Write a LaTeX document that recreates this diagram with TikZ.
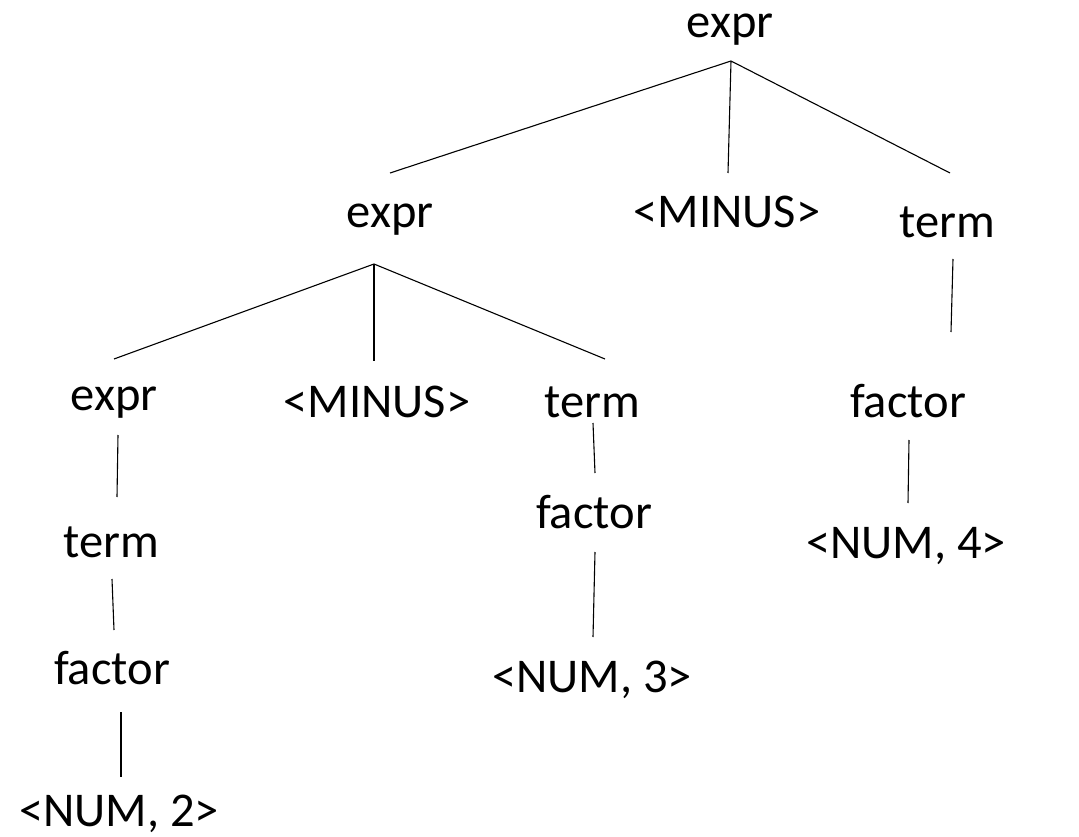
\documentclass[tikz,border=0pt]{standalone}
\usepackage{fontspec}
\setmainfont{Carlito}
\usetikzlibrary{calc}
\begin{document}
\begin{tikzpicture}[x=1pt,y=-1pt,
  lbl/.style={anchor=base,inner sep=0pt,font=\fontsize{48.5}{58}\selectfont},
  edge/.style={line width=1.1pt,black}]
\useasboundingbox (0,0) rectangle (1079,837);
% nodes
\node[lbl] (r)   at (730,38)  {expr};
\node[lbl] (e1)  at (390,228) {expr};
\node[lbl] (m1)  at (727,228) {<MINUS>};
\node[lbl] (t1)  at (947,237) {term};
\node[lbl] (e2)  at (114,410) {expr};
\node[lbl] (m2)  at (377,417) {<MINUS>};
\node[lbl] (t2)  at (592,417) {term};
\node[lbl] (f1)  at (908,417) {factor};
\node[lbl] (t3)  at (111,557) {term};
\node[lbl] (f2)  at (594,528) {factor};
\node[lbl] (n4)  at (906,558) {<NUM, 4>};
\node[lbl] (f3)  at (112,684) {factor};
\node[lbl] (n3)  at (592,692) {<NUM, 3>};
\node[lbl] (n2)  at (119,826) {<NUM, 2>};
% edges
\draw[edge] ($(e1.base)+(0,-55)$) -- ($(r.base)+(1,23)$) -- ($(t1.base)+(3,-64)$);
\draw[edge] ($(r.base)+(1,23)$) -- ($(m1.base)+(1,-55)$);
\draw[edge] ($(e2.base)+(0,-51)$) -- ($(e1.base)+(-16,36)$) -- ($(t2.base)+(13,-58)$);
\draw[edge] ($(e1.base)+(-16,36)$) -- ($(m2.base)+(-3,-56)$);
\draw[edge] ($(e2.base)+(4,25)$) -- ($(t3.base)+(6,-60)$);
\draw[edge] ($(t3.base)+(1,22)$) -- ($(f3.base)+(2,-54)$);
\draw[edge] ($(f3.base)+(9,28)$) -- ($(n2.base)+(2,-49)$);
\draw[edge] ($(t2.base)+(1,6)$) -- ($(f2.base)+(1,-55)$);
\draw[edge] ($(f2.base)+(1,24)$) -- ($(n3.base)+(1,-55)$);
\draw[edge] ($(t1.base)+(6,22)$) -- ($(f1.base)+(43,-85)$);
\draw[edge] ($(f1.base)+(1,23)$) -- ($(n4.base)+(2,-55)$);
\end{tikzpicture}
\end{document}
